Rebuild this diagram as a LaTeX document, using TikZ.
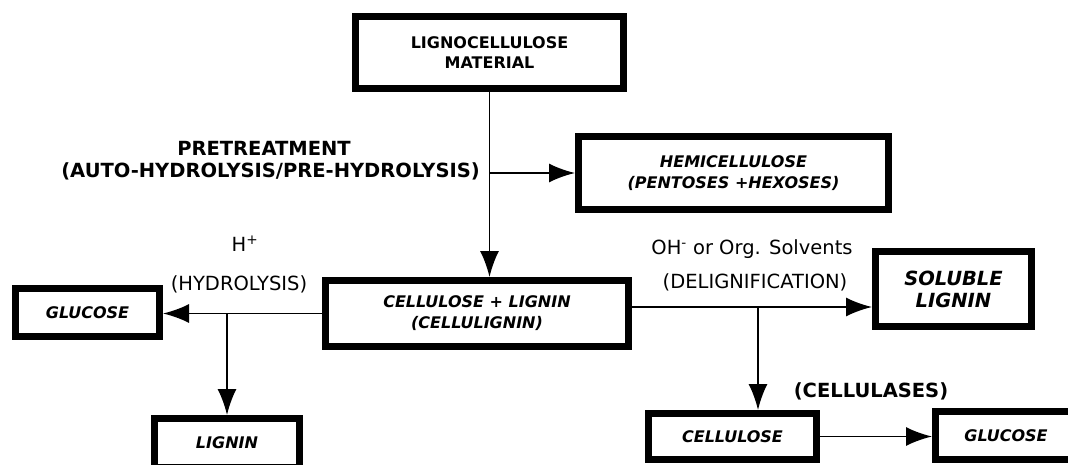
\documentclass[tikz,border=0pt]{standalone}
\usepackage{fontspec}
\setmainfont{DejaVu Sans}
\usetikzlibrary{arrows.meta}
\begin{document}
\begin{tikzpicture}[x=1pt,y=-1pt,
 box/.style={draw, line width=7pt, inner sep=0pt, outer sep=3.5pt, align=center, font=\bfseries\itshape\fontsize{16}{21}\selectfont},
 conn/.style={line width=1.9pt, -{Latex[length=26pt,width=19pt]}},
 lab/.style={font=\fontsize{19.5}{22}\selectfont, inner sep=0pt, text height=0.73em, text depth=0pt},
 blab/.style={font=\bfseries\fontsize{19.5}{22}\selectfont, inner sep=0pt, text height=0.73em, text depth=0pt}]
\useasboundingbox (0,0) rectangle (1068,465);
\clip (0,0) rectangle (1068,465);
% boxes
\node[box, minimum width=268pt, minimum height=72pt, font=\bfseries\fontsize{16}{19.5}\selectfont] (lig) at (489.5,52.5) {LIGNOCELLULOSE\\MATERIAL};
\node[box, minimum width=310pt, minimum height=73pt] (hemi) at (733.5,173) {HEMICELLULOSE\\(PENTOSES +HEXOSES)};
\node[box, minimum width=303pt, minimum height=66pt] (cl) at (477,313.5) {CELLULOSE + LIGNIN\\(CELLULIGNIN)};
\node[box, minimum width=144pt, minimum height=48pt] (glua) at (87.5,312.5) {GLUCOSE};
\node[box, minimum width=145pt, minimum height=49pt] (lign) at (227,443) {LIGNIN};
\node[box, minimum width=156pt, minimum height=75pt, font=\bfseries\itshape\fontsize{19.5}{22}\selectfont] (sol) at (953.5,289) {SOLUBLE\\LIGNIN};
\node[box, minimum width=168pt, minimum height=46pt] (cell) at (732.5,436.5) {CELLULOSE};
\node[box, minimum width=141pt, minimum height=48pt] (glub) at (1006,435.5) {GLUCOSE};
% connectors
\draw[conn] (lig.south) -- (lig.south |- cl.north);
\coordinate (hb) at (lig.south |- hemi.west);
\draw[conn] (hb) -- (hemi.west);
\draw[conn] (cl.west) -- (cl.west -| glua.east);
\coordinate (lb) at (lign.north |- cl.west);
\draw[conn] (lb) -- (lign.north);
\coordinate (ds) at ([yshift=6.5pt]cl.east);
\draw[conn] (ds) -- (ds -| sol.west);
\coordinate (cn) at ([xshift=25.5pt]cell.north);
\draw[conn] (cn |- ds) -- (cn);
\draw[conn] (cell.east) -- (cell.east -| glub.west);
% labels
\node[blab] (pre1) at (264,151.5) {PRETREATMENT};
\node[blab, anchor=east] (pre2) at (480,173.5) {(AUTO-HYDROLYSIS/PRE-HYDROLYSIS)};
\node[lab] (hp) at (245,248) {H\textsuperscript{+}};
\node[lab] (hyd) at (239,286.5) {(HYDROLYSIS)};
\node[lab] (oh) at (752,251) {OH\textsuperscript{-} or Org. Solvents};
\node[lab] (del) at (755,285) {(DELIGNIFICATION)};
\node[blab] (cellu) at (871,393.5) {(CELLULASES)};
\end{tikzpicture}
\end{document}
